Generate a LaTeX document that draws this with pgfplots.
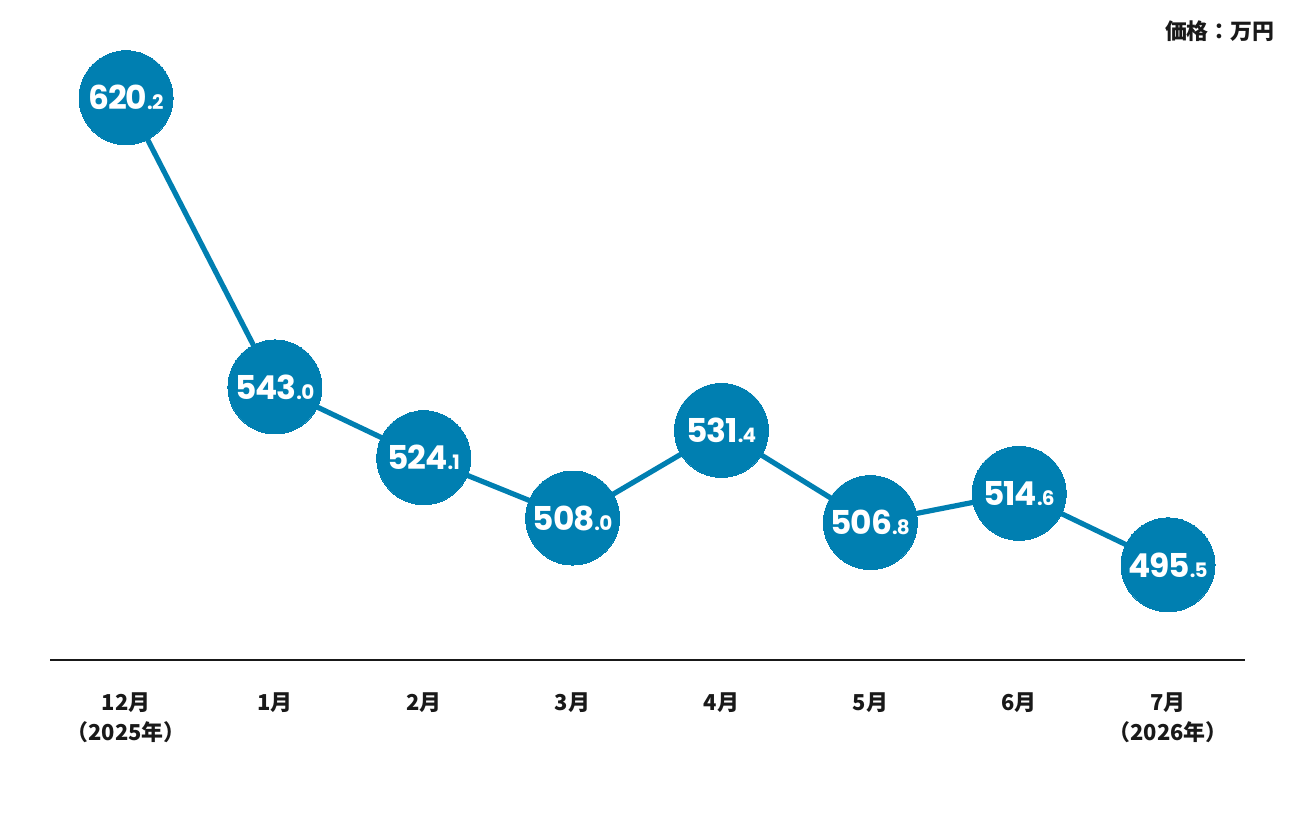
\documentclass[border=0pt]{standalone}
\usepackage{pgfplots}
\pgfplotsset{compat=1.18}
\usepackage{fontspec}
\setmainfont{Noto Sans CJK JP}
\newfontfamily\numfont{Poppins}[LetterSpace=-4]
\definecolor{mainblue}{RGB}{0,127,177}
\newcommand\dec[1]{{\fontsize{10}{10}\selectfont #1}}
\begin{document}
\begin{tikzpicture}
\path[use as bounding box] (0,0) rectangle (648bp,408bp);
\begin{axis}[
  at={(25bp,78bp)}, anchor=south west,
  scale only axis, width=597.5bp, height=330bp,
  xmin=-0.511, xmax=7.517, ymin=470.1, ymax=646.3,
  axis x line=bottom, axis y line=none,
  axis line style={-, line width=1bp, black!90},
  ytick=\empty,
  xtick={0,...,7},
  xticklabels={{12月\\（2025年）},1月,2月,3月,4月,5月,6月,{7月\\（2026年）}},
  xticklabel style={align=center, font=\bfseries\fontsize{11}{15}\selectfont, anchor=north, inner sep=0pt, yshift=-16bp, text=black!90},
  major tick length=0pt,
  clip=false,
]
\addplot[mainblue, line width=2.6bp, mark=*, mark size=23.5bp,
  mark options={fill=mainblue, draw=none, line width=0pt},
  nodes near coords, point meta=explicit symbolic,
  every node near coord/.style={anchor=center, text=white, inner sep=0pt, font=\numfont\bfseries\fontsize{16.5}{16.5}\selectfont}]
coordinates {
 (0,620.2) [620\dec{.2}]
 (1,543.0) [543\dec{.0}]
 (2,524.1) [524\dec{.1}]
 (3,508.0) [508\dec{.0}]
 (4,531.4) [531\dec{.4}]
 (5,506.8) [506\dec{.8}]
 (6,514.6) [514\dec{.6}]
 (7,495.5) [495\dec{.5}]
};
\end{axis}
\node[anchor=east, font=\bfseries\fontsize{11}{11}\selectfont, inner sep=0pt, text=black!90] at (637.5bp,392.5bp) {価格：万円};
\end{tikzpicture}
\end{document}
